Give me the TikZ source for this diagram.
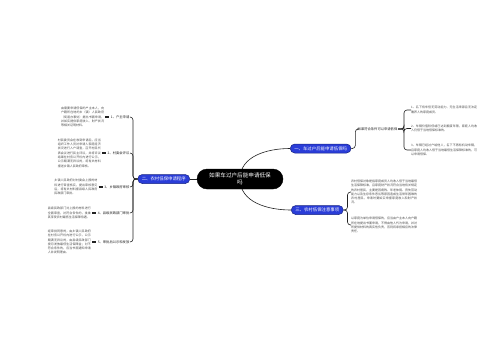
\documentclass[tikz,border=0pt]{standalone}
\usepackage{fontspec}
\setmainfont{Noto Sans CJK SC}
\usetikzlibrary{positioning,backgrounds}
\XeTeXlinebreaklocale "zh"
\XeTeXlinebreakskip=0pt plus 1pt
\setlength{\parindent}{0pt}
\definecolor{topicblue}{HTML}{2A3DD8}
\definecolor{notegray}{HTML}{4A4A4A}
\definecolor{linegray}{HTML}{222222}

\begin{document}
\begin{tikzpicture}[x=1pt, y=-1pt,
    root/.style={draw=black, fill=black, text=white, rounded corners=10pt,
      minimum width=86pt, minimum height=20pt, align=center, inner sep=2pt,
      font=\fontsize{5.6}{7.4}\selectfont},
    topic/.style={draw=topicblue!60!black, line width=0.5pt, fill=topicblue,
      text=white, rounded corners=4.5pt, minimum height=9pt, inner xsep=4pt,
      inner ysep=1pt, font=\fontsize{4.4}{5}\selectfont},
    sub/.style={text=linegray, inner sep=0.5pt, font=\fontsize{3.3}{4}\selectfont},
    note/.style={text=notegray, text width=#1, align=justify, inner sep=0pt,
      font=\fontsize{3}{4.3}\selectfont},
    note/.default=43pt,
    branch/.style={draw=linegray, line width=0.6pt, rounded corners=3pt},
    tick/.style={draw=linegray, line width=1.1pt, shorten <=1pt, shorten >=1pt}]
    \useasboundingbox (0,0) rectangle (500,360);

    % Root
    \node[root] (root) at (240,179) {如果车过户后能申请低保\\吗};

    % Main topics
    \node[topic, anchor=east] (t2) at (190,179) {二、农村低保申请程序};
    \node[topic, anchor=west] (t1) at (290,148.5) {一、车过户后能申请低保吗};
    \node[topic, anchor=west] (t3) at (291,210) {三、农村低保注意事项};

    % Left side: steps
    \node[sub, anchor=east] (s1) at (130,117) {1、户主申请};
    \node[sub, anchor=east] (s2) at (130,153) {2、村委会评议};
    \node[sub, anchor=east] (s3) at (130,187) {3、乡镇政府审核};
    \node[sub, anchor=east] (s4) at (130,213) {4、县级民政部门审批};
    \node[sub, anchor=east] (s5) at (130,242) {5、审批后公示和发放};

    \node[note, left=6pt of s1] (n1) {由需要申请低保的户主本人，向户籍所在地的乡（镇）人民政府（街道办事处）提出书面申请，并如实提供家庭收入、财产状况等相关证明材料。};
    \node[note, left=6pt of s2] (n2) {村民委员会在收到申请后，应当组织工作人员对申请人家庭经济状况进行入户调查，召开村民代表会议进行民主评议，并将评议结果在村务公开栏内进行公示，公示期满无异议的，将有关材料报送乡镇人民政府审核。};
    \node[note, left=6pt of s3] (n3) {乡镇人民政府对村委会上报的材料进行审查核实，提出审核意见后，将有关材料报县级人民政府民政部门审批。};
    \node[note, left=6pt of s4] (n4) {县级民政部门对上报的材料进行全面审查，对符合条件的，批准其享受农村最低生活保障待遇。};
    \node[note, left=6pt of s5] (n5) {经审批同意的，由乡镇人民政府在村务公开栏内进行公示，公示期满无异议的，由县级民政部门按月发放最低生活保障金；对不符合条件的，应当书面通知申请人并说明理由。};

    % Right side: topic one
    \node[sub, anchor=west] (s6) at (357,129) {如果符合条件可以申请低保};
    \node[note=66pt, anchor=west] (n6) at (411,110) {1、名下有车但无劳动能力、无生活来源且无法定赡养人的家庭成员。};
    \node[note=66pt, anchor=west] (n7) at (411,128.5) {2、车辆价值较低或已达到报废年限，家庭人均收入仍低于当地低保标准的。};
    \node[note=66pt, anchor=west] (n8) at (411,150) {3、车辆已经过户给他人，名下不再有机动车辆，且家庭人均收入低于当地最低生活保障标准的，可以申请低保。};

    % Right side: topic three
    \node[note=66pt, anchor=west] (n9) at (351,192) {农村低保对象是指家庭成员人均收入低于当地最低生活保障标准，且家庭财产状况符合当地有关规定的农村居民，主要是因病残、年老体弱、丧失劳动能力以及生存条件恶劣等原因造成生活常年困难的农村居民，申请时要如实申报家庭收入和财产状况。};
    \node[note=66pt, anchor=west] (n10) at (351,225) {以家庭为单位申请低保的，应当由户主本人向户籍所在地提出书面申请，不得由他人代为申请，并对所提供材料的真实性负责，否则将承担相应的法律责任。};

    % Connectors
    \begin{scope}[on background layer]
        \draw[branch] (root.center) to[out=90, in=180] (t1.west);
        \draw[branch] (root.center) to[out=-90, in=180] (t3.west);
    \end{scope}
    \draw[branch] (t2.east) -- (root.west);
    \foreach \s in {s1,s2,s3,s4,s5}
        \draw[branch] (t2.west) -- ++(-4.5,0) |- (\s.east);
    \foreach \i in {1,...,5}
        \draw[tick] (n\i.east) -- (s\i.west);

    \draw[branch] (t1.east) -- ++(4,0) |- (s6.west);
    \foreach \n in {n6,n7,n8}
        \draw[branch] (s6.east) -- ++(6,0) |- (\n.west);

    \foreach \n in {n9,n10}
        \draw[branch] (t3.east) -- ++(4,0) |- (\n.west);
\end{tikzpicture}
\end{document}
